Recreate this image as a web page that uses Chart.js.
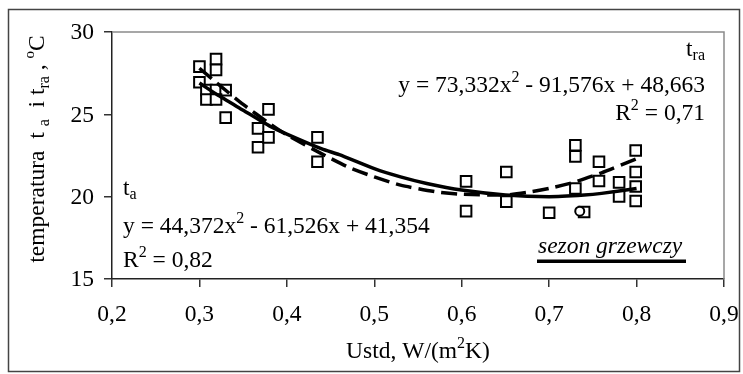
<!DOCTYPE html>
<html>
<head>
<meta charset="utf-8">
<script src="https://cdn.jsdelivr.net/npm/chart.js@4.4.0/dist/chart.umd.min.js"></script>
<style>
  html, body { margin: 0; padding: 0; background: #fff; }
  #wrap { width: 743px; height: 374px; }
</style>
</head>
<body>
<div id="wrap"><canvas id="chart" width="743" height="374"></canvas></div>
<script>
// axis ticks
const xTicks = [0.2, 0.3, 0.4, 0.5, 0.6, 0.7, 0.8, 0.9];
const xTickLabels = ['0,2', '0,3', '0,4', '0,5', '0,6', '0,7', '0,8', '0,9'];
const yTicks = [15, 20, 25, 30];
const yTickLabels = ['15', '20', '25', '30'];

// measured points (squares)
const pointsU = [0.300, 0.300, 0.319, 0.319, 0.308, 0.319, 0.330, 0.308, 0.319, 0.330,
                 0.367, 0.367, 0.379, 0.379, 0.435, 0.435, 0.605, 0.605, 0.651, 0.651,
                 0.700, 0.730, 0.730, 0.730, 0.740, 0.757, 0.757, 0.780, 0.780,
                 0.799, 0.799, 0.799, 0.799];
const pointsT = [27.90, 26.95, 28.35, 27.70, 26.47, 26.47, 26.47, 25.90, 25.90, 24.80,
                 24.15, 23.00, 25.30, 23.60, 23.60, 22.12, 20.93, 19.12, 21.50, 19.70,
                 19.02, 23.12, 22.45, 20.50, 19.07, 22.12, 20.95, 20.87, 20.02,
                 22.80, 21.50, 20.62, 19.74];

// single circle marker
const circleU = [0.735];
const circleT = [19.12];

// trend line t_a (solid)
const taU = [0.30, 0.32, 0.35, 0.38, 0.40, 0.44, 0.46, 0.50, 0.53, 0.56, 0.60, 0.65, 0.70, 0.74, 0.76, 0.80];
const taT = [26.9, 26.2, 25.25, 24.3, 23.8, 22.9, 22.55, 21.7, 21.2, 20.8, 20.4, 20.1, 20.0, 20.1, 20.2, 20.5];

// trend line t_ra (dashed)
const traU = [0.30, 0.32, 0.35, 0.38, 0.40, 0.44, 0.47, 0.50, 0.53, 0.57, 0.60, 0.65, 0.68, 0.70, 0.73, 0.76, 0.80];
const traT = [27.8, 26.9, 25.6, 24.45, 23.75, 22.6, 21.8, 21.2, 20.7, 20.3, 20.15, 20.1, 20.3, 20.5, 20.9, 21.45, 22.3];

const SERIF = '"Liberation Serif", "Times New Roman", serif';
const FS = 23.5;   // main text size
const SUB = 16;    // sub/superscript size

const zip = (xs, ys) => xs.map((v, i) => ({ x: v, y: ys[i] }));

// draw a line of text made of pieces [text, size, dy, italic]
function rich(ctx, parts, x, y, align) {
    let w = 0;
    parts.forEach(p => {
        ctx.font = (p[3] ? 'italic ' : '') + p[1] + 'px ' + SERIF;
        w += ctx.measureText(p[0]).width;
    });
    let cx = align === 'right' ? x - w : align === 'center' ? x - w / 2 : x;
    ctx.textAlign = 'left';
    ctx.textBaseline = 'alphabetic';
    parts.forEach(p => {
        ctx.font = (p[3] ? 'italic ' : '') + p[1] + 'px ' + SERIF;
        ctx.fillText(p[0], cx, y + (p[2] || 0));
        cx += ctx.measureText(p[0]).width;
    });
}

const textPlugin = {
    id: 'texts',
    afterDraw(chart) {
        const { ctx, chartArea: a, scales: { x, y } } = chart;
        ctx.save();

        // outer frame
        ctx.strokeStyle = '#444';
        ctx.lineWidth = 1.5;
        ctx.strokeRect(8.5, 9.5, 731, 362);

        // top and right edge of plot area
        ctx.strokeStyle = '#8a8a8a';
        ctx.beginPath();
        ctx.moveTo(a.left, a.top);
        ctx.lineTo(a.right, a.top);
        ctx.lineTo(a.right, a.bottom);
        ctx.stroke();

        ctx.fillStyle = '#000';
        ctx.font = FS + 'px ' + SERIF;
        ctx.textAlign = 'center';
        ctx.textBaseline = 'alphabetic';
        xTicks.forEach((v, i) => ctx.fillText(xTickLabels[i], x.getPixelForValue(v), a.bottom + 42));
        ctx.textAlign = 'right';
        ctx.textBaseline = 'middle';
        yTicks.forEach((v, i) => ctx.fillText(yTickLabels[i], a.left - 18, y.getPixelForValue(v) + 1));

        // axis titles
        rich(ctx, [['Ustd, W/(m', FS], ['2', SUB, -10], ['K)', FS]], (a.left + a.right) / 2, 358, 'center');
        ctx.save();
        ctx.translate(37, 149);
        ctx.rotate(-Math.PI / 2);
        rich(ctx, [['temperatura  t ', FS], ['a', SUB, 5], ['  i t', FS], ['ra', SUB, 5],
                   [' , ', FS], ['o', SUB - 1, -10], ['C', FS]], 0, 7, 'center');
        ctx.restore();

        // t_a equation
        rich(ctx, [['t', FS], ['a', SUB, 4]], 123, 195, 'left');
        rich(ctx, [['y = 44,372x', FS], ['2', SUB, -10], [' - 61,526x + 41,354', FS]], 123, 233, 'left');
        rich(ctx, [['R', FS], ['2', SUB, -10], [' = 0,82', FS]], 123, 267, 'left');

        // t_ra equation
        rich(ctx, [['t', FS], ['ra', SUB, 4]], 705, 56, 'right');
        rich(ctx, [['y = 73,332x', FS], ['2', SUB, -10], [' - 91,576x + 48,663', FS]], 705, 92, 'right');
        rich(ctx, [['R', FS], ['2', SUB, -10], [' = 0,71', FS]], 705, 120, 'right');

        // season label
        rich(ctx, [['sezon grzewczy', FS, 0, true]], 538, 253, 'left');
        ctx.fillRect(537, 259.5, 149, 3.5);

        ctx.restore();
    }
};

new Chart(document.getElementById('chart'), {
    type: 'scatter',
    data: {
        datasets: [
            {
                label: 'ta',
                data: zip(taU, taT),
                showLine: true,
                borderColor: '#000',
                borderWidth: 3.5,
                pointRadius: 0,
                tension: 0.2
            },
            {
                label: 'tra',
                data: zip(traU, traT),
                showLine: true,
                borderColor: '#000',
                borderWidth: 3.5,
                borderDash: [16, 7],
                pointRadius: 0,
                tension: 0.2
            },
            {
                label: 'circle',
                data: zip(circleU, circleT),
                pointStyle: 'circle',
                pointRadius: 4.5,
                borderColor: '#000',
                borderWidth: 2,
                backgroundColor: '#fff'
            },
            {
                label: 'points',
                data: zip(pointsU, pointsT),
                pointStyle: 'rect',
                pointRadius: 7.5,
                borderColor: '#000',
                borderWidth: 2,
                backgroundColor: '#fff'
            }
        ]
    },
    options: {
        responsive: false,
        animation: false,
        devicePixelRatio: 1,
        layout: { padding: { left: 104, right: 19, top: 32, bottom: 87 } },
        plugins: { legend: { display: false }, tooltip: { enabled: false } },
        scales: {
            x: {
                type: 'linear',
                min: 0.2,
                max: 0.9,
                ticks: { stepSize: 0.1, display: false },
                grid: { drawOnChartArea: false, drawTicks: true, tickLength: 8, color: '#333', lineWidth: 1.5 },
                border: { color: '#222', width: 1.5 }
            },
            y: {
                min: 15,
                max: 30,
                ticks: { stepSize: 5, display: false },
                grid: { drawOnChartArea: false, drawTicks: true, tickLength: 8, color: '#333', lineWidth: 1.5 },
                border: { color: '#222', width: 1.5 }
            }
        }
    },
    plugins: [textPlugin]
});
</script>
</body>
</html>
